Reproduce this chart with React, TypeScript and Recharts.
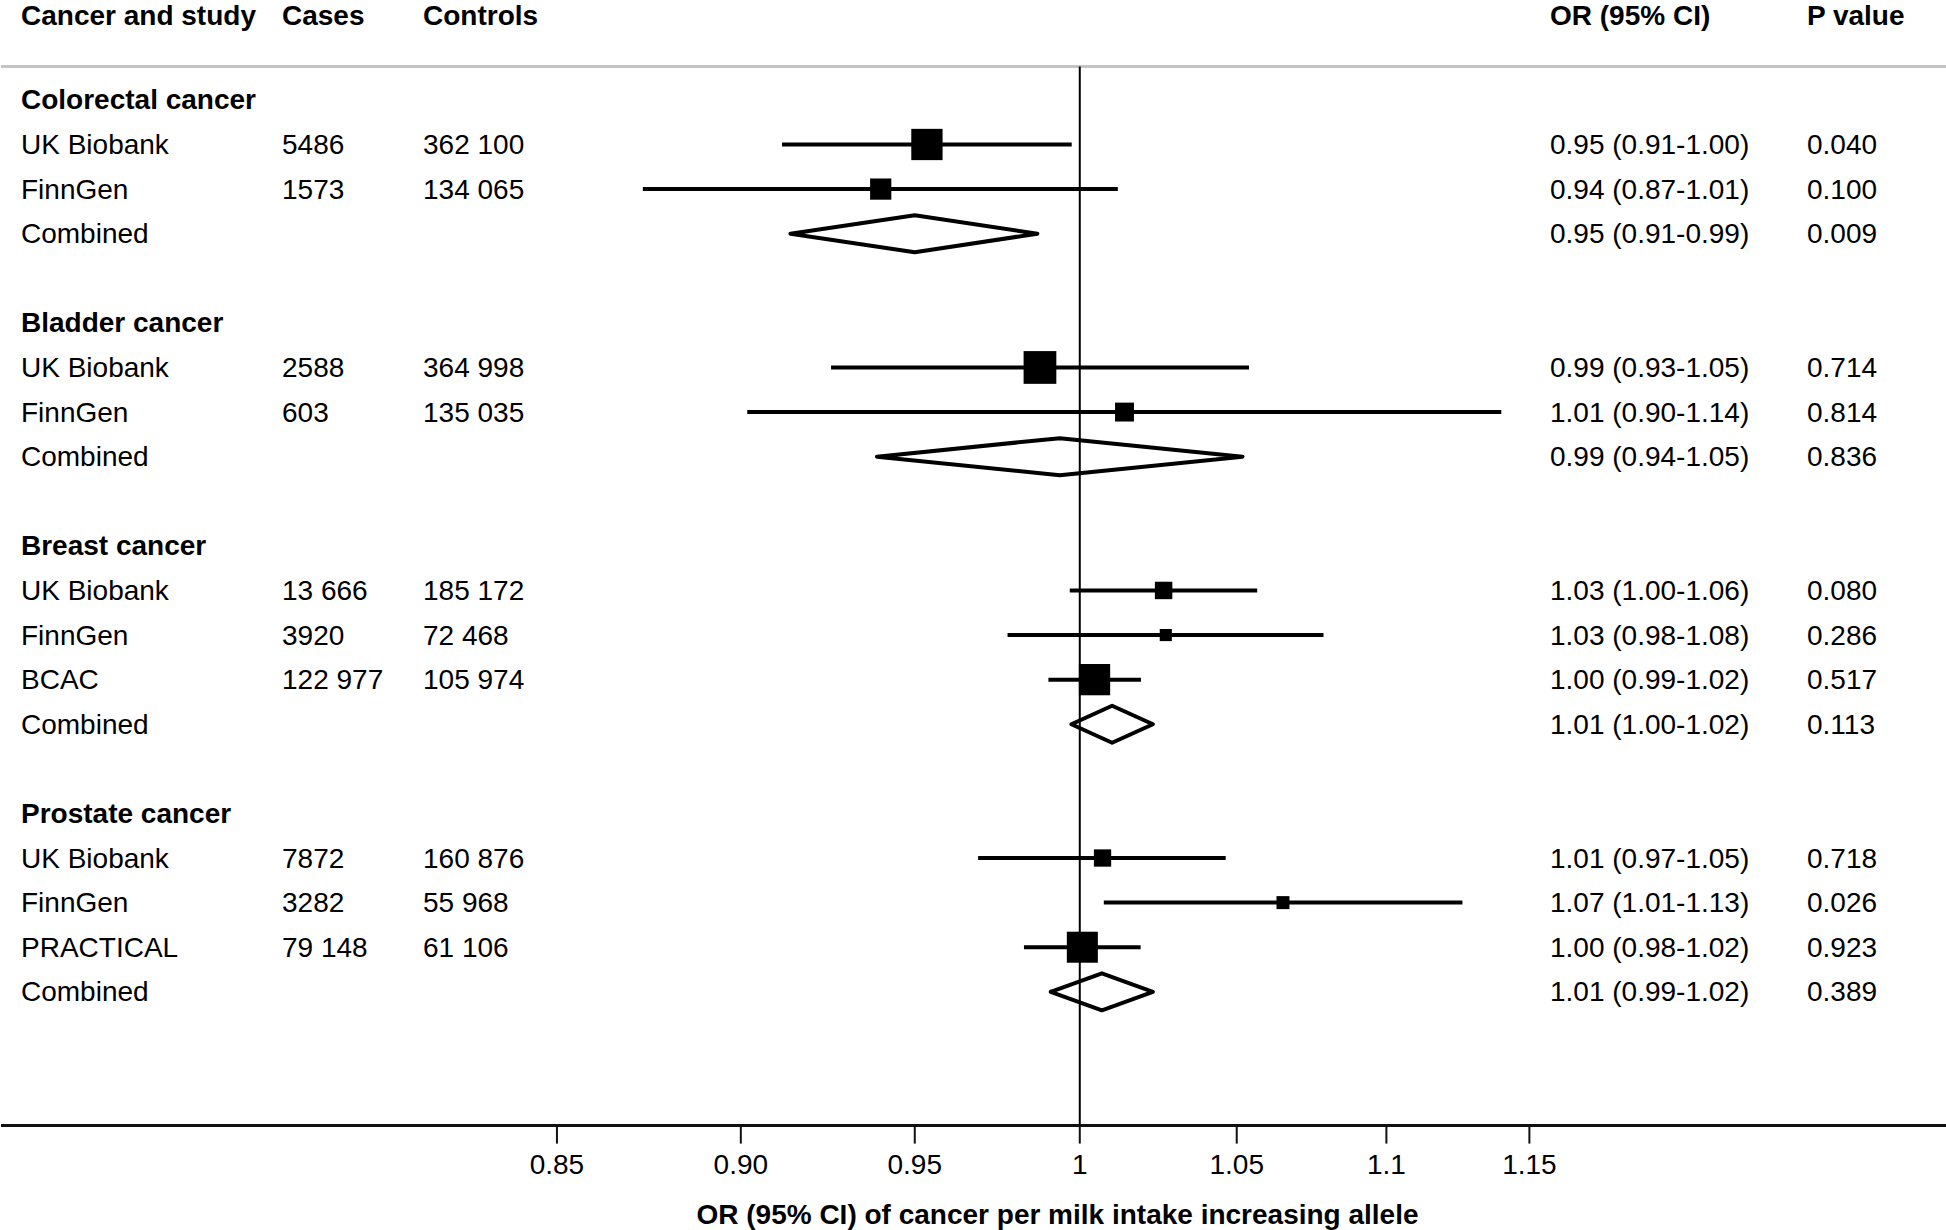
import React from "react";
import {
  ComposedChart,
  Scatter,
  XAxis,
  YAxis,
  ReferenceLine,
  ErrorBar,
  Label,
} from "recharts";

// table columns, one entry per row (blank rows separate the cancers)
const rowLabels = [
  "Colorectal cancer", "UK Biobank", "FinnGen", "Combined", "",
  "Bladder cancer", "UK Biobank", "FinnGen", "Combined", "",
  "Breast cancer", "UK Biobank", "FinnGen", "BCAC", "Combined", "",
  "Prostate cancer", "UK Biobank", "FinnGen", "PRACTICAL", "Combined",
];
const rowKinds = [
  "group", "study", "study", "combined", "blank",
  "group", "study", "study", "combined", "blank",
  "group", "study", "study", "study", "combined", "blank",
  "group", "study", "study", "study", "combined",
];
const cases = [
  "", "5486", "1573", "", "",
  "", "2588", "603", "", "",
  "", "13 666", "3920", "122 977", "", "",
  "", "7872", "3282", "79 148", "",
];
const controls = [
  "", "362 100", "134 065", "", "",
  "", "364 998", "135 035", "", "",
  "", "185 172", "72 468", "105 974", "", "",
  "", "160 876", "55 968", "61 106", "",
];
const orLabels = [
  "", "0.95 (0.91-1.00)", "0.94 (0.87-1.01)", "0.95 (0.91-0.99)", "",
  "", "0.99 (0.93-1.05)", "1.01 (0.90-1.14)", "0.99 (0.94-1.05)", "",
  "", "1.03 (1.00-1.06)", "1.03 (0.98-1.08)", "1.00 (0.99-1.02)", "1.01 (1.00-1.02)", "",
  "", "1.01 (0.97-1.05)", "1.07 (1.01-1.13)", "1.00 (0.98-1.02)", "1.01 (0.99-1.02)",
];
const pLabels = [
  "", "0.040", "0.100", "0.009", "",
  "", "0.714", "0.814", "0.836", "",
  "", "0.080", "0.286", "0.517", "0.113", "",
  "", "0.718", "0.026", "0.923", "0.389",
];

// odds ratios as drawn
const estimates = [
  null, 0.9536, 0.94, 0.95, null,
  null, 0.9877, 1.014, 0.9938, null,
  null, 1.0264, 1.0271, 1.0046, 1.0101, null,
  null, 1.0071, 1.0652, 1.0008, 1.0069,
];
const ciLower = [
  null, 0.9116, 0.873, 0.914, null,
  null, 0.9256, 0.9018, 0.9389, null,
  null, 0.9969, 0.9778, 0.9903, 0.9974, null,
  null, 0.9689, 1.0075, 0.9828, 0.991,
];
const ciUpper = [
  null, 0.9975, 1.0119, 0.9869, null,
  null, 1.054, 1.14, 1.0519, null,
  null, 1.0567, 1.0787, 1.0192, 1.023, null,
  null, 1.0464, 1.1263, 1.0191, 1.023,
];
// study weight within each meta-analysis (%)
const weights = [
  null, 68.5, 31.5, null, null,
  null, 75, 25, null, null,
  null, 21.3, 10.3, 68.4, null, null,
  null, 20.9, 11.8, 67.3, null,
];

const headers = ["Cancer and study", "Cases", "Controls", "OR (95% CI)", "P value"];
const xTicks = [0.85, 0.9, 0.95, 1, 1.05, 1.1, 1.15];
const xTickLabels = ["0.85", "0.90", "0.95", "1", "1.05", "1.1", "1.15"];
const xTitle = "OR (95% CI) of cancer per milk intake increasing allele";

const HEADER_ROW = -1.89;
const SEPARATOR_ROW = -0.75;
const AXIS_ROW = 23;
const colX = [21, 282, 423, 1550, 1807];
const FONT = 28;

const studyPoints = rowKinds
  .map((k, i) => ({ k, i }))
  .filter((r) => r.k === "study")
  .map(({ i }) => ({
    x: estimates[i] as number,
    y: i,
    err: [(estimates[i] as number) - (ciLower[i] as number), (ciUpper[i] as number) - (estimates[i] as number)],
    w: weights[i] as number,
  }));

const DIAMOND_HALF = 0.415;
const diamonds = rowKinds
  .map((k, i) => ({ k, i }))
  .filter((r) => r.k === "combined")
  .map(({ i }) => [
    { x: ciLower[i], y: i },
    { x: estimates[i], y: i - DIAMOND_HALF },
    { x: ciUpper[i], y: i },
    { x: estimates[i], y: i + DIAMOND_HALF },
    { x: ciLower[i], y: i },
  ]);

const rowTicks = [HEADER_ROW, ...rowKinds.map((k, i) => (k === "blank" ? -99 : i)).filter((v) => v >= 0)];

const RowTick = (props: any) => {
  const { y, payload } = props;
  const i = payload.value;
  const common = { y, dominantBaseline: "central" as const, fontSize: FONT, fill: "#000" };
  if (i === HEADER_ROW) {
    return (
      <g>
        {headers.map((h, c) => (
          <text key={c} x={colX[c]} {...common} fontWeight={700}>
            {h}
          </text>
        ))}
      </g>
    );
  }
  const cells = [rowLabels[i], cases[i], controls[i], orLabels[i], pLabels[i]];
  return (
    <g>
      {cells.map((t, c) =>
        t ? (
          <text key={c} x={colX[c]} {...common} fontWeight={rowKinds[i] === "group" ? 700 : 400}>
            {t}
          </text>
        ) : null
      )}
    </g>
  );
};

const BoxShape = (props: any) => {
  const { cx, cy, payload } = props;
  const s = 3.78 * Math.sqrt(payload.w);
  return <rect x={cx - s / 2} y={cy - s / 2} width={s} height={s} fill="#000" />;
};

const NoDot = () => <g />;

export default function App() {
  return (
    <div
      style={{
        position: "absolute",
        left: 0,
        top: 0,
        width: 1946,
        height: 1230,
        background: "#fff",
        fontFamily: "'Liberation Sans', Arial, sans-serif",
      }}
    >
      <ComposedChart width={1946} height={1230} margin={{ top: 0, right: 0, bottom: 0, left: 0 }}>
        <XAxis
          type="number"
          dataKey="x"
          scale="log"
          domain={[0.7151, 1.309]}
          allowDataOverflow
          ticks={xTicks}
          interval={0}
          tickFormatter={(v: number) => xTickLabels[xTicks.indexOf(v)] ?? String(v)}
          tickSize={18}
          tickMargin={11}
          height={104.4}
          axisLine={{ stroke: "#111", strokeWidth: 3 }}
          tickLine={{ stroke: "#111", strokeWidth: 2 }}
          tick={{ fill: "#000", fontSize: FONT }}
        >
          <Label
            value={xTitle}
            position="insideBottom"
            offset={6}
            dx={84}
            fill="#000"
            fontSize={FONT}
            fontWeight={700}
          />
        </XAxis>
        <YAxis
          type="number"
          dataKey="y"
          domain={[-2.24, AXIS_ROW]}
          allowDataOverflow
          reversed
          ticks={rowTicks}
          interval={0}
          width={1}
          axisLine={false}
          tickLine={false}
          tick={(p: any) => <RowTick {...p} />}
        />
        <ReferenceLine y={SEPARATOR_ROW} stroke="#c4c4c4" strokeWidth={3} />
        <ReferenceLine
          segment={[
            { x: 1, y: SEPARATOR_ROW },
            { x: 1, y: AXIS_ROW },
          ]}
          stroke="#000"
          strokeWidth={2}
          ifOverflow="visible"
        />
        <Scatter data={studyPoints} dataKey="y" shape={BoxShape} isAnimationActive={false}>
          <ErrorBar dataKey="err" direction="x" width={0} stroke="#000" strokeWidth={4} />
        </Scatter>
        {diamonds.map((pts, d) => (
          <Scatter
            key={d}
            data={pts}
            dataKey="y"
            shape={NoDot}
            line={{ stroke: "#000", strokeWidth: 4, strokeLinejoin: "round", strokeLinecap: "round" }}
            lineType="joint"
            lineJointType="linear"
            isAnimationActive={false}
          />
        ))}
      </ComposedChart>
    </div>
  );
}
